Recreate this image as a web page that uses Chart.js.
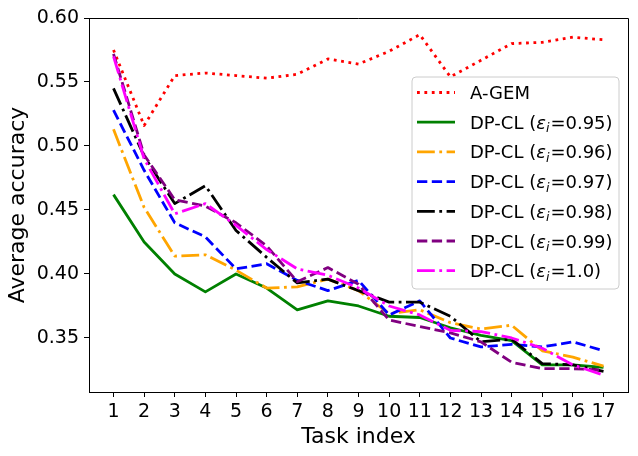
<!DOCTYPE html>
<html>
<head>
<meta charset="utf-8">
<script src="https://cdn.jsdelivr.net/npm/chart.js@4.4.1/dist/chart.umd.min.js"></script>
<style>
  html, body { margin: 0; padding: 0; background: #fff; }
</style>
</head>
<body>
<canvas id="chart" width="638" height="456"></canvas>
<script>
// ---- data ----
const taskIdx = [1, 2, 3, 4, 5, 6, 7, 8, 9, 10, 11, 12, 13, 14, 15, 16, 17];
const yTicks = [0.35, 0.40, 0.45, 0.50, 0.55, 0.60];

const aGem  = [0.575, 0.516, 0.555, 0.557, 0.555, 0.553, 0.556, 0.568, 0.564, 0.574, 0.587, 0.554, 0.567, 0.580, 0.581, 0.585, 0.583];
const eps95 = [0.462, 0.425, 0.400, 0.386, 0.400, 0.389, 0.372, 0.379, 0.375, 0.367, 0.366, 0.358, 0.352, 0.348, 0.329, 0.329, 0.327];
const eps96 = [0.513, 0.452, 0.414, 0.415, 0.403, 0.389, 0.390, 0.396, 0.387, 0.369, 0.372, 0.362, 0.357, 0.360, 0.340, 0.335, 0.328];
const eps97 = [0.528, 0.481, 0.440, 0.429, 0.404, 0.408, 0.395, 0.387, 0.395, 0.368, 0.379, 0.350, 0.343, 0.345, 0.343, 0.347, 0.340];
const eps98 = [0.545, 0.492, 0.455, 0.469, 0.434, 0.413, 0.393, 0.396, 0.387, 0.378, 0.378, 0.367, 0.347, 0.349, 0.330, 0.329, 0.324];
const eps99 = [0.572, 0.493, 0.458, 0.453, 0.440, 0.422, 0.394, 0.405, 0.392, 0.364, 0.359, 0.354, 0.347, 0.331, 0.326, 0.326, 0.325];
const eps100 = [0.570, 0.490, 0.447, 0.455, 0.438, 0.419, 0.404, 0.399, 0.389, 0.375, 0.368, 0.356, 0.355, 0.350, 0.342, 0.329, 0.321];

const seriesNames = ['A-GEM', 'DP-CL', 'DP-CL', 'DP-CL', 'DP-CL', 'DP-CL', 'DP-CL'];
const epsLabels = [null, '0.95', '0.96', '0.97', '0.98', '0.99', '1.0'];
const seriesValues = [aGem, eps95, eps96, eps97, eps98, eps99, eps100];

// ---- styles ----
const FONT = "'DejaVu Sans', sans-serif";
const LW = 2.8;
const DOT = [2.8, 4.6];
const DASH = [10.3, 4.5];
const DASHDOT = [17.8, 4.5, 2.8, 4.5];
const colors = ['#ff0000', '#008000', '#ffa500', '#0000ff', '#000000', '#800080', '#ff00ff'];
const dashes = [DOT, [], DASHDOT, DASH, DASHDOT, DASH, DASHDOT];

const datasets = seriesValues.map((vals, i) => ({
    label: epsLabels[i] ? seriesNames[i] + ' (\u03b5i=' + epsLabels[i] + ')' : seriesNames[i],
    data: taskIdx.map((t, k) => ({ x: t, y: vals[k] })),
    borderColor: colors[i],
    backgroundColor: colors[i],
    borderWidth: LW,
    borderDash: dashes[i],
    borderCapStyle: 'butt',
    borderJoinStyle: 'round',
    pointRadius: 0,
    fill: false,
    tension: 0,
    order: seriesValues.length - 1 - i   // later series drawn on top, as in the original
}));

// ---- frame (top/right spines) ----
const framePlugin = {
    id: 'frame',
    afterDraw(chart) {
        const { ctx, chartArea: a } = chart;
        ctx.save();
        ctx.strokeStyle = '#000';
        ctx.lineWidth = 1;
        ctx.beginPath();
        ctx.moveTo(a.left, a.top + 0.5);
        ctx.lineTo(a.right + 0.5, a.top + 0.5);
        ctx.lineTo(a.right + 0.5, a.bottom);
        ctx.stroke();
        ctx.restore();
    }
};

// ---- legend box inside the plot, with epsilon_i math label ----
const legendPlugin = {
    id: 'boxLegend',
    afterDraw(chart) {
        const ctx = chart.ctx;
        const bx = 412, by = 77, bw = 207, bh = 212, r = 4;
        ctx.save();
        ctx.beginPath();
        ctx.moveTo(bx + r, by);
        ctx.arcTo(bx + bw, by, bx + bw, by + bh, r);
        ctx.arcTo(bx + bw, by + bh, bx, by + bh, r);
        ctx.arcTo(bx, by + bh, bx, by, r);
        ctx.arcTo(bx, by, bx + bw, by, r);
        ctx.closePath();
        ctx.fillStyle = 'rgba(255,255,255,0.8)';
        ctx.fill();
        ctx.strokeStyle = '#cccccc';
        ctx.lineWidth = 1;
        ctx.stroke();

        chart.data.datasets.forEach((ds, i) => {
            const y = by + 15.5 + i * 29.7;
            ctx.strokeStyle = ds.borderColor;
            ctx.lineWidth = ds.borderWidth;
            ctx.lineCap = 'butt';
            ctx.setLineDash(ds.borderDash);
            ctx.beginPath();
            ctx.moveTo(bx + 5, y);
            ctx.lineTo(bx + 43, y);
            ctx.stroke();
            ctx.setLineDash([]);

            ctx.fillStyle = '#000';
            ctx.textBaseline = 'alphabetic';
            ctx.textAlign = 'left';
            const base = y + 6.5;
            let x = bx + 58;
            if (!epsLabels[i]) {
                ctx.font = '18px ' + FONT;
                ctx.fillText(seriesNames[i], x, base);
                return;
            }
            const pre = seriesNames[i] + ' (';
            ctx.font = '18px ' + FONT;
            ctx.fillText(pre, x, base);
            x += ctx.measureText(pre).width;
            ctx.font = 'italic 18px ' + FONT;
            ctx.fillText('\u03b5', x, base);
            x += ctx.measureText('\u03b5').width;
            ctx.font = 'italic 12.6px ' + FONT;
            ctx.fillText('i', x, base + 3.5);
            x += ctx.measureText('i').width + 1;
            const post = '=' + epsLabels[i] + ')';
            ctx.font = '18px ' + FONT;
            ctx.fillText(post, x, base);
        });
        ctx.restore();
    }
};

const tickFont = { family: FONT, size: 19 };
const titleFont = { family: FONT, size: 22 };

new Chart(document.getElementById('chart'), {
    type: 'line',
    data: { datasets },
    options: {
        responsive: false,
        animation: false,
        devicePixelRatio: 1,
        layout: { padding: { left: 0, right: 10, top: 18, bottom: 0 } },
        plugins: { legend: { display: false }, tooltip: { enabled: false } },
        scales: {
            x: {
                type: 'linear',
                min: 0.2,
                max: 17.8,
                afterBuildTicks: s => { s.ticks = taskIdx.map(v => ({ value: v })); },
                afterFit: s => { s.height = 64; },
                ticks: { font: tickFont, color: '#000', padding: 4, autoSkip: false, maxRotation: 0, callback: v => String(v) },
                grid: { drawOnChartArea: false, drawTicks: true, tickLength: 5, color: '#000', lineWidth: 1 },
                border: { display: true, color: '#000', width: 1 },
                title: { display: true, text: 'Task index', font: titleFont, color: '#000', padding: { top: 0, bottom: 6 } }
            },
            y: {
                min: 0.3078,
                max: 0.60,
                afterBuildTicks: s => { s.ticks = yTicks.map(v => ({ value: v })); },
                afterFit: s => { s.width = 89; },
                ticks: { font: tickFont, color: '#000', padding: 5, callback: v => v.toFixed(2) },
                grid: { drawOnChartArea: false, drawTicks: true, tickLength: 5, color: '#000', lineWidth: 1 },
                border: { display: true, color: '#000', width: 1 },
                title: { display: true, text: 'Average accuracy', font: titleFont, color: '#000', padding: { top: 5, bottom: 0 } }
            }
        }
    },
    plugins: [framePlugin, legendPlugin]
});
</script>
</body>
</html>
